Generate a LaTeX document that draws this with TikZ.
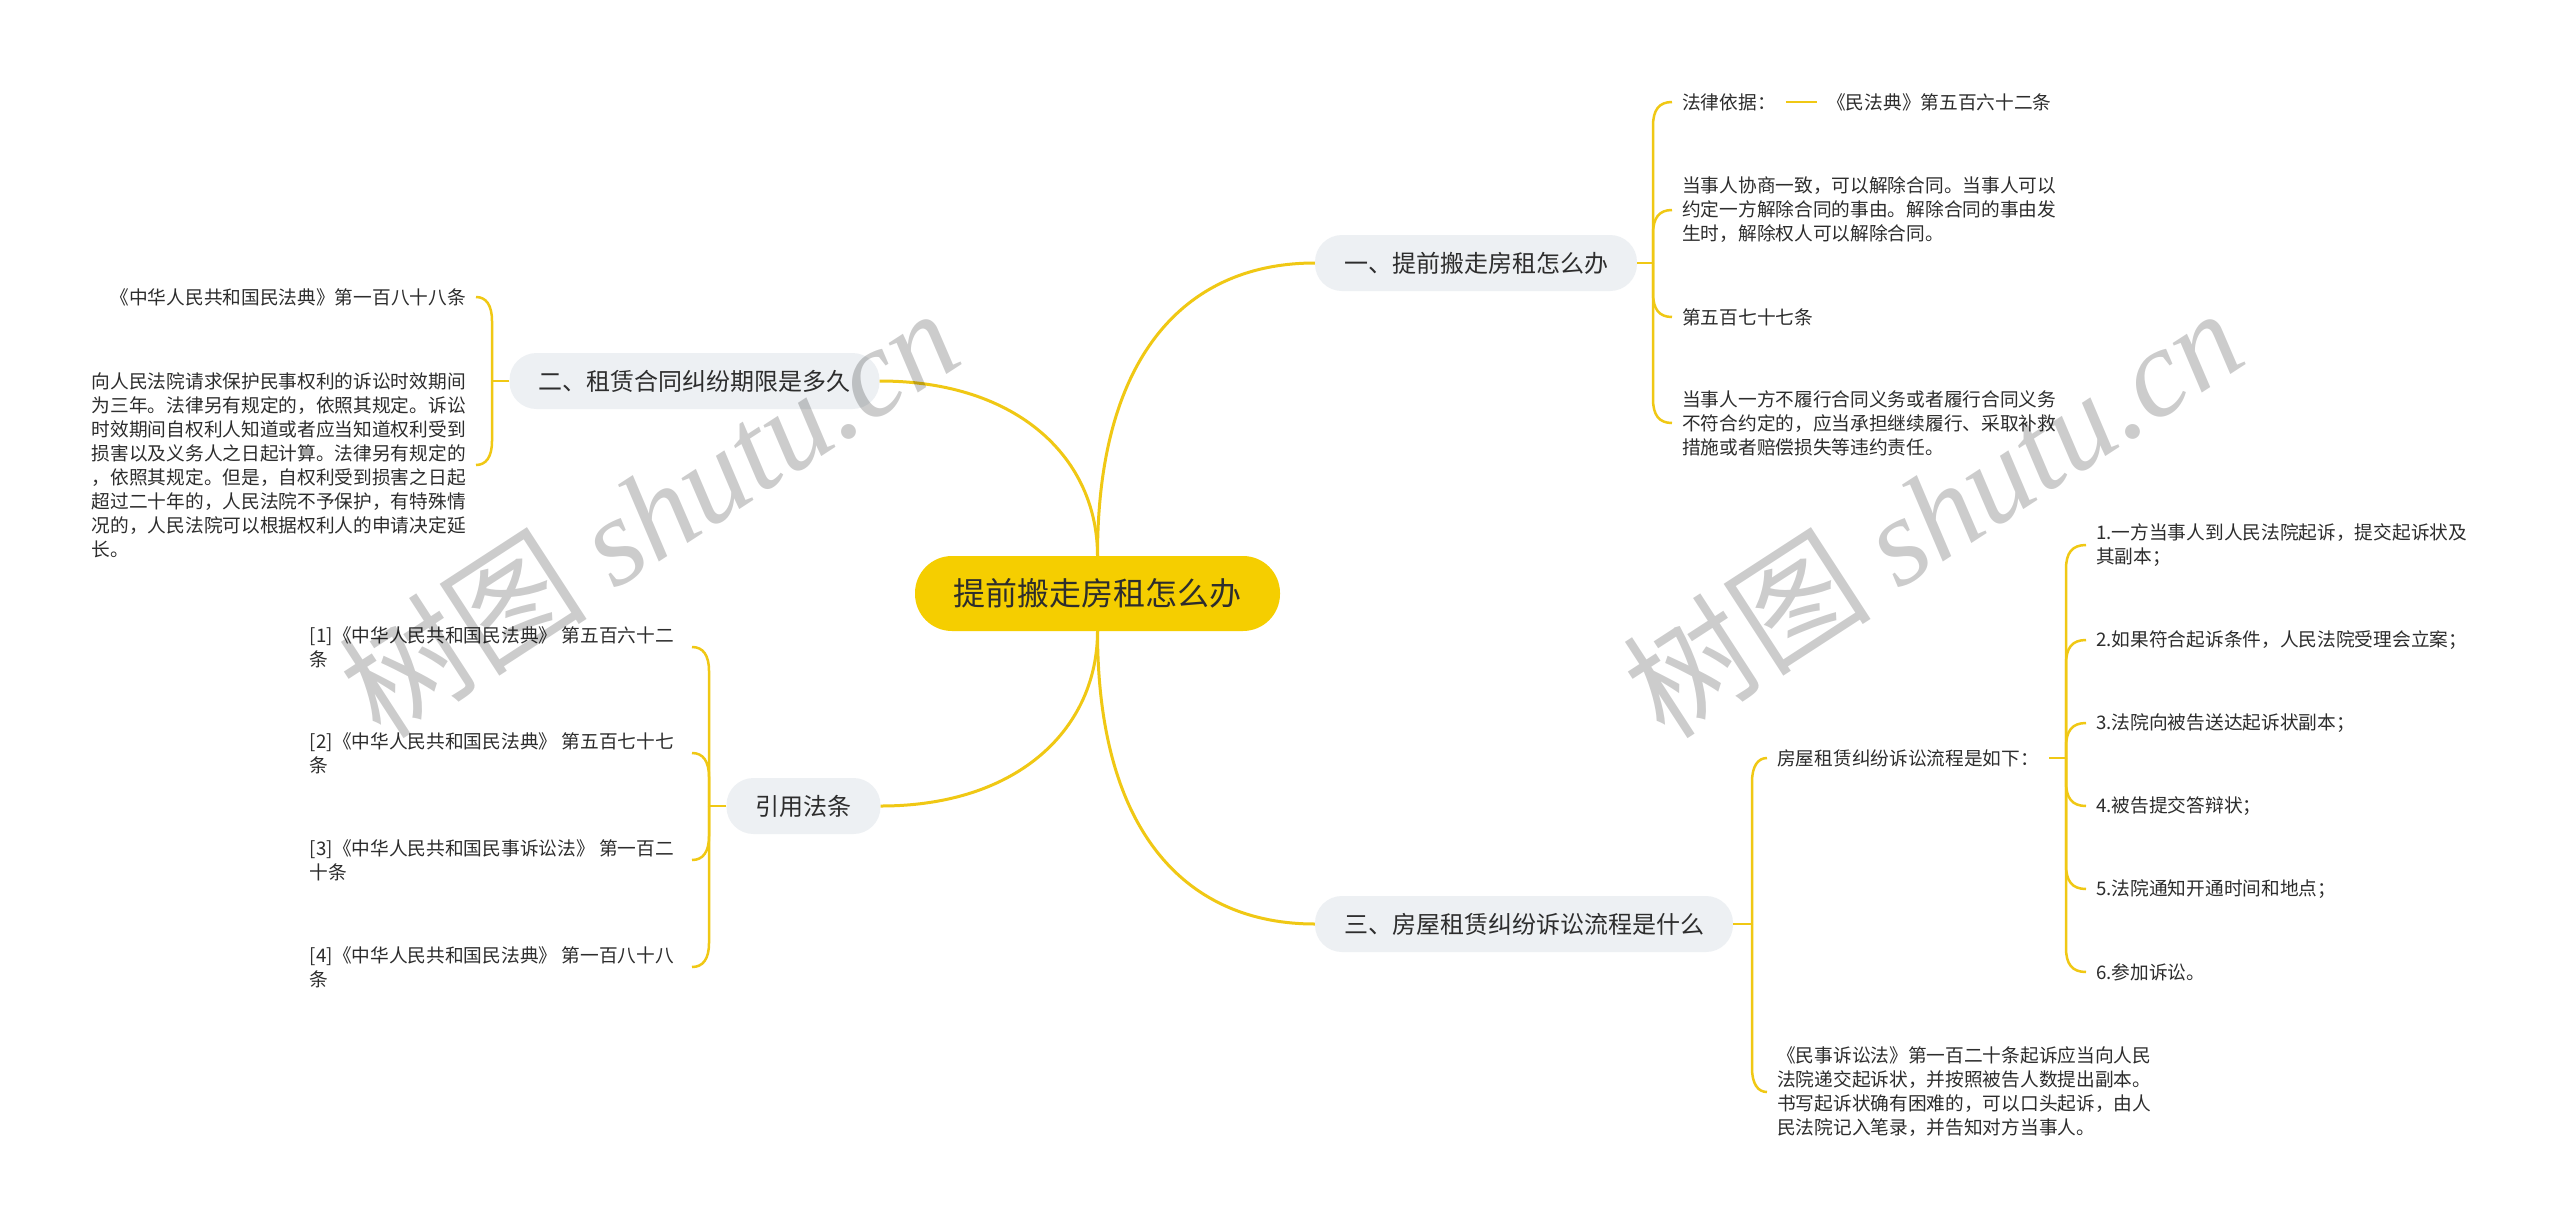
\documentclass[tikz,border=0pt]{standalone}
\usepackage{fontspec}
\setmainfont{Noto Sans CJK SC}
\newfontfamily\wmlatin{Liberation Serif}
\usetikzlibrary{calc}
\definecolor{lineY}{RGB}{240,200,20}
\definecolor{rootY}{RGB}{245,206,0}
\definecolor{pillG}{RGB}{237,240,243}
\definecolor{txtC}{RGB}{45,45,45}
\tikzset{
  rootbox/.style={rectangle, rounded corners=37pt, fill=rootY, minimum width=365pt, minimum height=75pt, inner sep=0pt, text=txtC, font=\fontsize{32pt}{38pt}\selectfont},
  topic/.style={rectangle, rounded corners=27pt, fill=pillG, minimum height=56pt, inner xsep=29pt, inner ysep=0pt, text=txtC, font=\fontsize{24pt}{28pt}\selectfont},
  leaf/.style={inner xsep=10pt, inner ysep=0pt, align=left, text=txtC, font=\fontsize{18.7pt}{24pt}\selectfont},
  mainln/.style={draw=lineY, line width=3pt},
  brln/.style={draw=lineY, line width=2.5pt},
  wmark/.style={rotate=33, text=black, opacity=0.2, inner sep=0pt, font=\fontsize{125pt}{125pt}\selectfont}
}
\newcommand\brR[3]{\draw[brln] (#1) -- ([yshift=#3*24pt]#1 |- #2.west) .. controls ([yshift=#3*8pt]#1 |- #2.west) and ([xshift=6pt]#1 |- #2.west) .. (#2.west);}
\newcommand\brL[3]{\draw[brln] (#1) -- ([yshift=#3*24pt]#1 |- #2.east) .. controls ([yshift=#3*8pt]#1 |- #2.east) and ([xshift=-6pt]#1 |- #2.east) .. (#2.east);}
\begin{document}
\begin{tikzpicture}[x=1pt,y=-1pt]
\fill[white] (0,0) rectangle (2560,1229);
\useasboundingbox (0,0) rectangle (2560,1229);

% main nodes
\node[rootbox] (root) at (1097.5,593.5) {提前搬走房租怎么办};
\node[topic] (t1) at (1476,263) {一、提前搬走房租怎么办};
\node[topic] (t2) at (694.5,381) {二、租赁合同纠纷期限是多久};
\node[topic] (t3) at (1524,924) {三、房屋租赁纠纷诉讼流程是什么};
\node[topic] (t4) at (803.5,806) {引用法条};

% leaves of t1
\node[leaf,anchor=west] (a1) at (1672,102) {法律依据：};
\node[leaf,anchor=west] (a1b) at (1817,102) {《民法典》第五百六十二条};
\node[leaf,anchor=west] (a2) at (1672,210) {当事人协商一致，可以解除合同。当事人可以\\约定一方解除合同的事由。解除合同的事由发\\生时，解除权人可以解除合同。};
\node[leaf,anchor=west] (a3) at (1672,317) {第五百七十七条};
\node[leaf,anchor=west] (a4) at (1672,423) {当事人一方不履行合同义务或者履行合同义务\\不符合约定的，应当承担继续履行、采取补救\\措施或者赔偿损失等违约责任。};

% leaves of t2
\node[leaf,anchor=east] (b1) at (476,297) {《中华人民共和国民法典》第一百八十八条};
\node[leaf,anchor=east] (b2) at (476,465) {向人民法院请求保护民事权利的诉讼时效期间\\为三年。法律另有规定的，依照其规定。诉讼\\时效期间自权利人知道或者应当知道权利受到\\损害以及义务人之日起计算。法律另有规定的\\，依照其规定。但是，自权利受到损害之日起\\超过二十年的，人民法院不予保护，有特殊情\\况的，人民法院可以根据权利人的申请决定延\\长。};

% leaves of t4
\node[leaf,anchor=east,inner xsep=18pt] (c1) at (692,647) {[1]《中华人民共和国民法典》 第五百六十二\\条};
\node[leaf,anchor=east,inner xsep=18pt] (c2) at (692,753) {[2]《中华人民共和国民法典》 第五百七十七\\条};
\node[leaf,anchor=east,inner xsep=18pt] (c3) at (692,860) {[3]《中华人民共和国民事诉讼法》 第一百二\\十条};
\node[leaf,anchor=east,inner xsep=18pt] (c4) at (692,967) {[4]《中华人民共和国民法典》 第一百八十八\\条};

% leaves of t3
\node[leaf,anchor=west] (d1) at (1767,758) {房屋租赁纠纷诉讼流程是如下：};
\node[leaf,anchor=west] (d2) at (1767,1092) {《民事诉讼法》第一百二十条起诉应当向人民\\法院递交起诉状，并按照被告人数提出副本。\\书写起诉状确有困难的，可以口头起诉，由人\\民法院记入笔录，并告知对方当事人。};

% leaves of d1
\node[leaf,anchor=west] (e1) at (2086,545) {1.一方当事人到人民法院起诉，提交起诉状及\\其副本；};
\node[leaf,anchor=west] (e2) at (2086,640) {2.如果符合起诉条件，人民法院受理会立案；};
\node[leaf,anchor=west] (e3) at (2086,723) {3.法院向被告送达起诉状副本；};
\node[leaf,anchor=west] (e4) at (2086,806) {4.被告提交答辩状；};
\node[leaf,anchor=west] (e5) at (2086,889) {5.法院通知开通时间和地点；};
\node[leaf,anchor=west] (e6) at (2086,972) {6.参加诉讼。};

% main connectors
\draw[mainln] (root.north) .. controls (1097.5,350) and (1190,263) .. (t1.west);
\draw[mainln] (root.north) .. controls (1097.5,460) and (1020,381) .. (t2.east);
\draw[mainln] (root.south) .. controls (1097.5,727) and (1020,806) .. (t4.east);
\draw[mainln] (root.south) .. controls (1097.5,837) and (1190,924) .. (t3.west);

% bracket knots
\coordinate (k1) at (1653,263);
\coordinate (k2) at (492,381);
\coordinate (k3) at (1752,924);
\coordinate (k4) at (709,806);
\coordinate (k5) at (2066,758);

\draw[brln] (t1.east) -- (k1);
\brR{k1}{a1}{-1}
\brR{k1}{a2}{-1}
\brR{k1}{a3}{1}
\brR{k1}{a4}{1}
\draw[brln] (a1.east) -- (a1b.west);

\draw[brln] (t2.west) -- (k2);
\brL{k2}{b1}{-1}
\brL{k2}{b2}{1}

\draw[brln] (t4.west) -- (k4);
\brL{k4}{c1}{-1}
\brL{k4}{c2}{-1}
\brL{k4}{c3}{1}
\brL{k4}{c4}{1}

\draw[brln] (t3.east) -- (k3);
\brR{k3}{d1}{-1}
\brR{k3}{d2}{1}

\draw[brln] (d1.east) -- (k5);
\brR{k5}{e1}{-1}
\brR{k5}{e2}{-1}
\brR{k5}{e3}{-1}
\brR{k5}{e4}{1}
\brR{k5}{e5}{1}
\brR{k5}{e6}{1}

% watermarks
\node[wmark] (wm1) at (648,512) {树图 {\wmlatin\itshape shutu.cn}};
\node[wmark] (wm2) at (1932,512) {树图 {\wmlatin\itshape shutu.cn}};
\end{tikzpicture}
\end{document}
